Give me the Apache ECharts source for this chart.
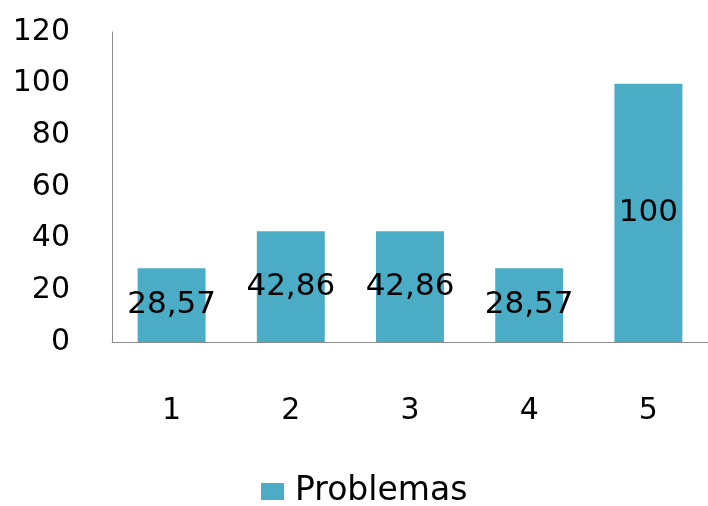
<!DOCTYPE html>
<html>
<head>
<meta charset="utf-8">
<script src="https://cdn.jsdelivr.net/npm/echarts@6/dist/echarts.min.js"></script>
<style>
  html, body { margin: 0; padding: 0; background: #fff; }
  #chart { width: 708px; height: 506px; }
</style>
</head>
<body>
<div id="chart"></div>
<script>
// 数据
const categories = ['1', '2', '3', '4', '5'];
const problemas = [28.57, 42.86, 42.86, 28.57, 100];
const seriesName = 'Problemas';

const chart = echarts.init(document.getElementById('chart'));
const font = 'DejaVu Sans';

chart.setOption({
  animation: false,
  grid: { left: 112, top: 32, width: 600, bottom: 164 },
  xAxis: {
    type: 'category',
    data: categories,
    axisLine: { lineStyle: { color: '#8c8c8c', width: 1 } },
    axisTick: { show: false },
    axisLabel: { color: '#000', fontSize: 30, fontFamily: font, margin: 54 }
  },
  yAxis: {
    type: 'value',
    min: 0, max: 120, interval: 20,
    axisLine: { show: true, lineStyle: { color: '#8c8c8c', width: 1 } },
    axisTick: { show: false },
    splitLine: { show: false },
    axisLabel: { color: '#000', fontSize: 30, fontFamily: font, margin: 42 }
  },
  legend: {
    top: 470,
    left: 256,
    itemWidth: 23, itemHeight: 17,
    itemGap: 10,
    textStyle: { fontSize: 33, fontFamily: font, color: '#000', padding: [0, 0, 0, 6] },
    data: [{ name: seriesName, icon: 'rect' }]
  },
  series: [{
    name: seriesName,
    type: 'bar',
    data: problemas,
    barWidth: '57%',
    itemStyle: { color: '#4BACC6' },
    label: {
      show: true,
      position: 'inside',
      color: '#000',
      fontSize: 31,
      fontFamily: font,
      formatter: p => String(p.value).replace('.', ',')
    }
  }]
});
</script>
</body>
</html>
